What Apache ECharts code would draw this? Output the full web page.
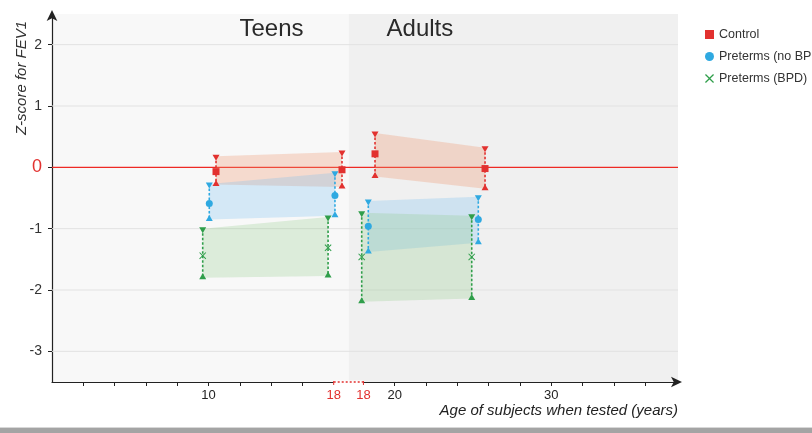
<!DOCTYPE html>
<html>
<head>
<meta charset="utf-8">
<script src="https://cdn.jsdelivr.net/npm/echarts@6/dist/echarts.min.js"></script>
<style>html,body{margin:0;padding:0;background:#fff;}#c{width:812px;height:433px;}</style>
</head>
<body>
<div id="c"></div>
<script>
// ---- data (ages in years, Z-scores for FEV1) ----
const periods = ['teen', 'teen', 'adult', 'adult'];

const controlAge   = [10.48, 18.53, 18.74, 25.77];
const controlMean  = [-0.07, -0.04, 0.22, -0.02];
const controlUpper = [0.18, 0.25, 0.56, 0.32];
const controlLower = [-0.28, -0.32, -0.15, -0.35];

const nobpdAge   = [10.05, 18.08, 18.31, 25.34];
const nobpdMean  = [-0.59, -0.46, -0.96, -0.85];
const nobpdUpper = [-0.27, -0.09, -0.55, -0.48];
const nobpdLower = [-0.85, -0.79, -1.38, -1.23];

const bpdAge   = [9.63, 17.64, 17.89, 24.92];
const bpdMean  = [-1.44, -1.31, -1.46, -1.46];
const bpdUpper = [-1.00, -0.81, -0.74, -0.79];
const bpdLower = [-1.80, -1.77, -2.19, -2.14];

const sectionNames = ['Teens', 'Adults'];
const teenTickYears  = [2, 4, 6, 8, 10, 12, 14, 16];
const adultTickYears = [20, 22, 24, 26, 28, 30, 32, 34, 36];
const teenLabelYears  = [10, 18];
const adultLabelYears = [18, 20, 30];
const yLabelValues = [-3, -2, -1, 0, 1, 2];
const yGridValues = [-3, -2, -1, 1, 2];
const zeroLineValue = 0;

// ---- broken axis mapping ----
const SHIFT = 1.9;      // adult section is displaced along the axis
const BREAK = 18.95;    // boundary between sections (display units)
const X_MIN = 0, X_MAX = 40, Y_MIN = -3.5, Y_MAX = 2.5;
const disp = (age, p) => p === 'adult' ? age + SHIFT : age;

const FONT = 'Liberation Sans, Helvetica, Arial, sans-serif';
const RED = '#e2312f', BLUE = '#2fa9e1', GREEN = '#2f9e4a';
const xPath = 'path://M1,0L5,4L9,0L10,1L6,5L10,9L9,10L5,6L1,10L0,9L4,5L0,1Z';

const groups = [
  {name: 'Control', age: controlAge, mean: controlMean, up: controlUpper, lo: controlLower, color: RED, fill: 'rgba(240,150,110,0.30)', symbol: 'rect', size: 7},
  {name: 'Preterms (no BPD)', age: nobpdAge, mean: nobpdMean, up: nobpdUpper, lo: nobpdLower, color: BLUE, fill: 'rgba(120,190,240,0.28)', symbol: 'circle', size: 7},
  {name: 'Preterms (BPD)', age: bpdAge, mean: bpdMean, up: bpdUpper, lo: bpdLower, color: GREEN, fill: 'rgba(140,200,130,0.26)', symbol: xPath, size: 7}
];

const series = [];

// section backgrounds + titles
series.push({
  type: 'custom', name: 'bg', z: -1, silent: true,
  data: [[X_MIN, BREAK, 0], [BREAK, X_MAX, 1]],
  renderItem: function (params, api) {
    const a = api.coord([api.value(0), Y_MAX]);
    const b = api.coord([api.value(1), Y_MIN]);
    const i = api.value(2);
    return {
      type: 'group',
      children: [
        {type: 'rect', shape: {x: a[0], y: a[1], width: b[0] - a[0], height: b[1] - a[1]},
         style: {fill: i === 0 ? '#f8f8f8' : '#f0f0f0'}},
        {type: 'text', x: i === 0 ? b[0] - 45 : a[0] + 38, y: a[1] + 15,
         style: {text: sectionNames[i], fontSize: 24, fontFamily: FONT, fill: '#2a2a2a',
                 align: i === 0 ? 'right' : 'left', verticalAlign: 'middle'}}
      ]
    };
  }
});

// gridlines and zero reference line (value, kind) -- kind 1 = zero line
const refLines = yGridValues.map(v => [X_MIN, v, 0]).concat([[X_MIN, zeroLineValue, 1]]);
series.push({
  type: 'custom', name: 'grid', z: 1, silent: true,
  data: refLines,
  renderItem: function (params, api) {
    const a = api.coord([X_MIN, api.value(1)]);
    const b = api.coord([X_MAX, api.value(1)]);
    const zero = api.value(2) === 1;
    return {type: 'line', shape: {x1: a[0], y1: a[1], x2: b[0], y2: b[1]},
            style: {stroke: zero ? '#ee2a24' : '#e2e2e2', lineWidth: zero ? 1.4 : 1}};
  }
});

// bands
groups.forEach(g => {
  const bandData = [];
  for (let k = 0; k < periods.length; k += 2) {
    bandData.push([disp(g.age[k], periods[k]), g.lo[k], g.up[k], disp(g.age[k + 1], periods[k + 1]), g.lo[k + 1], g.up[k + 1]]);
  }
  series.push({
    type: 'custom', name: g.name + ' band', z: 2, silent: true, data: bandData,
    renderItem: function (params, api) {
      const pts = [
        api.coord([api.value(0), api.value(2)]),
        api.coord([api.value(3), api.value(5)]),
        api.coord([api.value(3), api.value(4)]),
        api.coord([api.value(0), api.value(1)])
      ];
      return {type: 'polygon', shape: {points: pts}, style: {fill: g.fill}};
    }
  });
});

// ranges (dashed bars with triangles)
groups.forEach(g => {
  const barData = g.age.map((a, k) => [disp(a, periods[k]), g.lo[k], g.up[k]]);
  series.push({
    type: 'custom', name: g.name + ' range', z: 3, silent: true, data: barData,
    renderItem: function (params, api) {
      const c = api.coord([api.value(0), api.value(2)]);
      const d = api.coord([api.value(0), api.value(1)]);
      return {
        type: 'group',
        children: [
          {type: 'line', shape: {x1: c[0], y1: c[1], x2: d[0], y2: d[1]},
           style: {stroke: g.color, lineWidth: 1.6, lineDash: [2.5, 2]}},
          {type: 'polygon', shape: {points: [[c[0] - 3.5, c[1] - 1.5], [c[0] + 3.5, c[1] - 1.5], [c[0], c[1] + 4.5]]},
           style: {fill: g.color}},
          {type: 'polygon', shape: {points: [[d[0] - 3.5, d[1] + 1.5], [d[0] + 3.5, d[1] + 1.5], [d[0], d[1] - 4.5]]},
           style: {fill: g.color}}
        ]
      };
    }
  });
});

// means
groups.forEach(g => {
  series.push({
    type: 'scatter', name: g.name, z: 4,
    symbol: g.symbol, symbolSize: g.size,
    itemStyle: {color: g.color, opacity: 1},
    data: g.age.map((a, k) => [disp(a, periods[k]), g.mean[k]])
  });
});

// axis break segment
series.push({
  type: 'custom', name: 'break', z: 5, silent: true,
  data: [[18, 18 + SHIFT]],
  renderItem: function (params, api) {
    const a = api.coord([api.value(0), Y_MIN]);
    const b = api.coord([api.value(1), Y_MIN]);
    return {
      type: 'group',
      children: [
        {type: 'line', shape: {x1: a[0], y1: a[1], x2: b[0], y2: b[1]}, style: {stroke: '#ffffff', lineWidth: 3}},
        {type: 'line', shape: {x1: a[0], y1: a[1], x2: b[0], y2: b[1]}, style: {stroke: RED, lineWidth: 1.6, lineDash: [2, 2]}},
        {type: 'line', shape: {x1: a[0], y1: a[1] - 1, x2: a[0], y2: a[1] + 3}, style: {stroke: RED, lineWidth: 1}},
        {type: 'line', shape: {x1: b[0], y1: b[1] - 1, x2: b[0], y2: b[1] + 3}, style: {stroke: RED, lineWidth: 1}}
      ]
    };
  }
});

const xTicks = teenTickYears.map(v => disp(v, 'teen')).concat(adultTickYears.map(v => disp(v, 'adult')));
const xLabels = teenLabelYears.map(v => disp(v, 'teen')).concat(adultLabelYears.map(v => disp(v, 'adult')));

const option = {
  animation: false,
  textStyle: {fontFamily: FONT},
  grid: {left: 52, right: 134, top: 14, bottom: 51},
  legend: {
    orient: 'vertical', left: 700, top: 23, itemWidth: 9, itemHeight: 9, itemGap: 9,
    textStyle: {fontSize: 12.5, color: '#333', fontFamily: FONT},
    data: [
      {name: 'Control', icon: 'rect'},
      {name: 'Preterms (no BPD)', icon: 'circle'},
      {name: 'Preterms (BPD)', icon: xPath}
    ]
  },
  xAxis: {
    type: 'value', min: X_MIN, max: X_MAX,
    axisLine: {show: true, onZero: false, lineStyle: {color: '#222', width: 1.2},
               symbol: ['none', 'arrow'], symbolSize: [8, 11], symbolOffset: [0, 4]},
    axisTick: {show: true, length: 4, lineStyle: {color: '#222'}, customValues: xTicks},
    axisLabel: {
      customValues: xLabels, color: '#222', fontSize: 13, margin: 7, fontFamily: FONT,
      formatter: function (v) {
        const real = Math.round(v <= BREAK ? v : v - SHIFT);
        return real === 18 ? '{r|18}' : String(real);
      },
      rich: {r: {color: RED, fontSize: 13, fontFamily: FONT}}
    },
    splitLine: {show: false}
  },
  yAxis: {
    type: 'value', min: Y_MIN, max: Y_MAX,
    axisLine: {show: true, onZero: false, lineStyle: {color: '#222', width: 1.2},
               symbol: ['none', 'arrow'], symbolSize: [8, 11], symbolOffset: [0, 4]},
    axisTick: {show: true, length: 4, lineStyle: {color: '#222'}, customValues: yLabelValues},
    axisLabel: {
      customValues: yLabelValues, color: '#333', fontSize: 14, margin: 10, fontFamily: FONT,
      formatter: function (v) { return v === 0 ? '{z|0}' : String(v); },
      rich: {z: {color: RED, fontSize: 18, fontFamily: FONT}}
    },
    splitLine: {show: false}
  },
  graphic: [
    {type: 'text', x: 22, y: 78, rotation: Math.PI / 2,
     style: {text: 'Z-score for FEV1', fontSize: 15, fontStyle: 'italic', fontFamily: FONT, fill: '#333', align: 'center', verticalAlign: 'middle'}},
    {type: 'text', x: 678, y: 411,
     style: {text: 'Age of subjects when tested (years)', fontSize: 15, fontStyle: 'italic', fontFamily: FONT, fill: '#222', align: 'right', verticalAlign: 'middle'}},
    {type: 'rect', x: 0, y: 427, shape: {width: 812, height: 1}, style: {fill: '#d8d8d8'}},
    {type: 'rect', x: 0, y: 428, shape: {width: 812, height: 5}, style: {fill: '#a4a4a4'}}
  ],
  series: series
};

const chart = echarts.init(document.getElementById('c'), null, {renderer: 'canvas'});
chart.setOption(option);
</script>
</body>
</html>
